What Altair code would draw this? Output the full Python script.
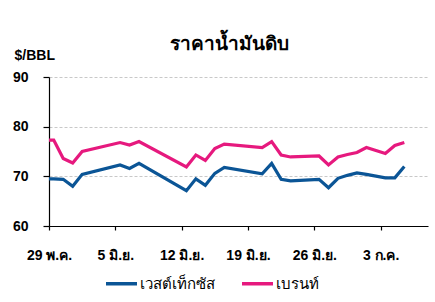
import altair as alt
import pandas as pd

# ---- data ----
dates = ["2023-05-28", "2023-05-29", "2023-05-30", "2023-05-31", "2023-06-01",
         "2023-06-05", "2023-06-06", "2023-06-07", "2023-06-12", "2023-06-13",
         "2023-06-14", "2023-06-15", "2023-06-16", "2023-06-20", "2023-06-21",
         "2023-06-22", "2023-06-23", "2023-06-26", "2023-06-27", "2023-06-28",
         "2023-06-29", "2023-06-30", "2023-07-01", "2023-07-03", "2023-07-04",
         "2023-07-05"]
wti = [69.5, 69.5, 69.4, 68.0, 70.4,
       72.3, 71.6, 72.6, 67.1, 69.5,
       68.2, 70.6, 71.8, 70.5, 72.6,
       69.4, 69.1, 69.4, 67.7, 69.6,
       70.2, 70.7, 70.4, 69.7, 69.7,
       72.0]
brent = [77.3, 77.3, 73.6, 72.7, 75.0,
         76.8, 76.3, 77.0, 71.9, 74.3,
         73.2, 75.6, 76.5, 75.8, 77.0,
         74.3, 73.9, 74.1, 72.3, 73.9,
         74.4, 74.8, 75.8, 74.6, 76.2,
         76.8]
series_names = ["เวสต์เท็กซัส", "เบรนท์"]
series_colors = ["#0b5596", "#e6197e"]
tick_dates = ["2023-05-29", "2023-06-05", "2023-06-12", "2023-06-19", "2023-06-26", "2023-07-03"]
tick_labels = ["29 พ.ค.", "5 มิ.ย.", "12 มิ.ย.", "19 มิ.ย.", "26 มิ.ย.", "3 ก.ค."]
y_ticks = [60, 70, 80, 90]
title_text = "ราคาน้ำมันดิบ"
unit_text = "$/BBL"

rows = []
for d, w, b in zip(dates, wti, brent):
    rows.append({"date": d + "T12:00:00", "value": w, "series": series_names[0]})
    rows.append({"date": d + "T12:00:00", "value": b, "series": series_names[1]})
df = pd.DataFrame(rows)

def dt(s):
    y, m, d = s.split("-")
    return alt.DateTime(year=int(y), month=int(m), date=int(d))

label_map = "{" + ", ".join(f"'{d}': '{l}'" for d, l in zip(tick_dates, tick_labels)) + "}"

FONT = "Liberation Sans"

chart = alt.Chart(df).mark_line(strokeWidth=3.2, clip=True, strokeJoin="miter").encode(
    x=alt.X("date:T",
            scale=alt.Scale(domain=[dt("2023-05-29"), dt("2023-07-08")]),
            axis=alt.Axis(values=[dt(d) for d in tick_dates],
                          labelExpr=f"{label_map}[timeFormat(datum.value, '%Y-%m-%d')]",
                          title=None, grid=False, domainColor="#000", domainWidth=1.2,
                          tickColor="#000", tickSize=4, tickWidth=1.2,
                          labelFont=FONT, labelFontSize=14, labelFontWeight="bold",
                          labelColor="#000", labelPadding=18, labelFlush=False,
                          labelOverlap=False)),
    y=alt.Y("value:Q",
            scale=alt.Scale(domain=[60, 90], nice=False, zero=False),
            axis=alt.Axis(values=y_ticks, title=unit_text, titleAngle=0,
                          titleX=-35, titleY=-22, titleAlign="left", titleBaseline="middle",
                          titleFont=FONT, titleFontSize=14, titleFontWeight="bold", titleColor="#000",
                          grid=True, gridDash=[3, 2], gridColor="#c8c8c8", gridWidth=1,
                          domainColor="#000", domainWidth=1.2, tickColor="#000",
                          tickSize=6, tickWidth=1.2, labelFont=FONT, labelFontSize=14,
                          labelFontWeight="bold", labelColor="#000", labelPadding=15)),
    color=alt.Color("series:N",
                    scale=alt.Scale(domain=series_names, range=series_colors),
                    legend=alt.Legend(orient="none", legendX=55, legendY=189, direction="horizontal",
                                      title=None, symbolType="stroke", symbolSize=961,
                                      symbolStrokeWidth=3.5, labelFont=FONT, labelFontSize=15,
                                      labelFontWeight=500,
                                      labelColor="#000", labelOffset=1, columnPadding=20)),
).properties(
    width=379, height=149,
    title=alt.TitleParams(title_text, font=FONT, fontSize=19, fontWeight="bold",
                          color="#000", anchor="middle", dx=-9, offset=-6),
    padding={"left": 49, "top": 77, "right": 7, "bottom": 76},
    autosize=alt.AutoSizeParams(type="none"),
    background="white",
).configure_view(stroke=None)

chart.save("out.html", embed_options={"renderer": "svg", "actions": False})
